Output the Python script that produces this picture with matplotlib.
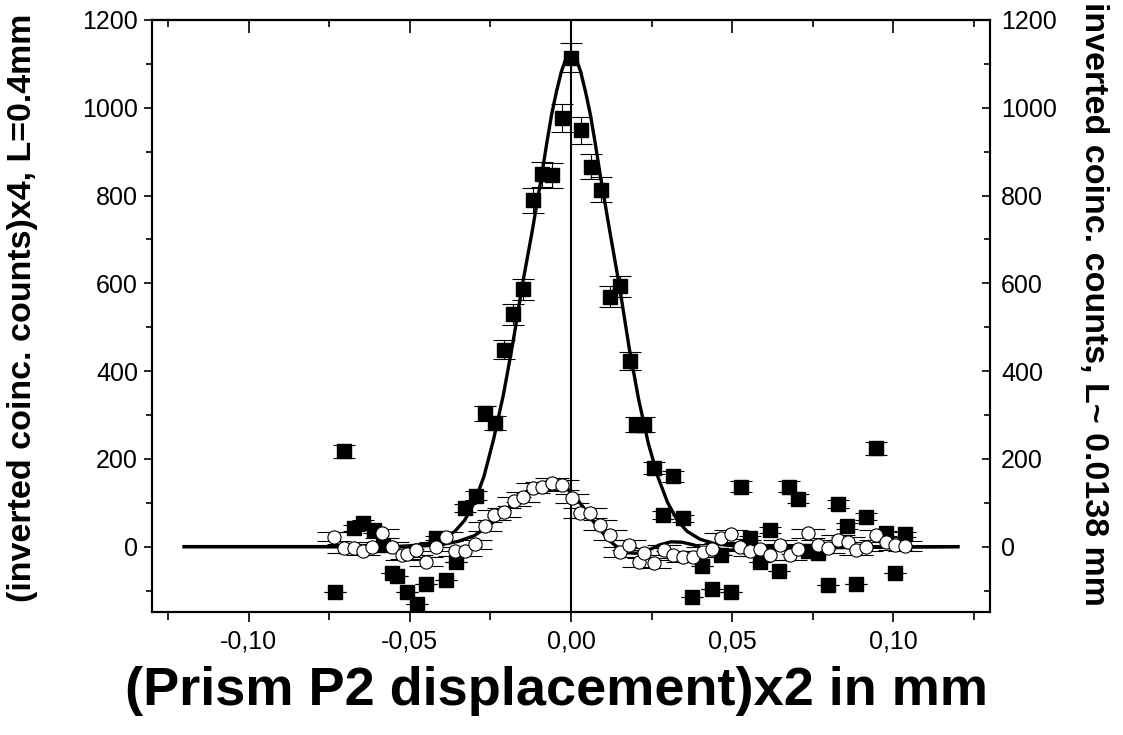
import numpy as np
import matplotlib.pyplot as plt
from matplotlib.ticker import MultipleLocator, FuncFormatter

plt.rcParams['font.family'] = ['Liberation Sans', 'DejaVu Sans']

# filled squares: (inverted coinc. counts)x4, L=0.4mm
sq_x = [-0.0733, -0.0704, -0.0673, -0.0644, -0.0611, -0.0583, -0.0554, -0.0539,
        -0.0510, -0.0479, -0.0449, -0.0420, -0.0389, -0.0358, -0.0330, -0.0296,
        -0.0268, -0.0237, -0.0208, -0.0179, -0.0150, -0.0119, -0.0090, -0.0059,
        -0.0028, 0.0001, 0.0031, 0.0062, 0.0092, 0.0122, 0.0153, 0.0182,
        0.0203, 0.0225, 0.0256, 0.0285, 0.0316, 0.0347, 0.0375, 0.0406,
        0.0437, 0.0464, 0.0496, 0.0526, 0.0555, 0.0586, 0.0617, 0.0645,
        0.0677, 0.0705, 0.0736, 0.0765, 0.0796, 0.0827, 0.0857, 0.0885,
        0.0916, 0.0947, 0.0976, 0.1006, 0.1037]
sq_y = [-104, 217, 42, 53, 38, 4, -61, -68,
        -103, -131, -84, 19, -76, -36, 88, 116,
        304, 282, 449, 529, 586, 789, 848, 846,
        977, 1114, 949, 866, 813, 569, 593, 424,
        278, 278, 180, 72, 160, 65, -115, -43,
        -97, -20, -104, 137, 19, -36, 38, -55,
        137, 109, -9, -15, -87, 97, 48, -84,
        68, 224, 30, -61, 28]
sq_err = [0, 15, 6.5, 7.3, 6.2, 2, 0, 0,
          0, 0, 0, 4.4, 0, 0, 9.4, 10.8,
          17.4, 16.8, 21.2, 23, 24.2, 28.1, 29.1, 29.1,
          31.3, 33.4, 30.8, 29.4, 28.5, 23.9, 24.4, 20.6,
          16.7, 16.7, 13.4, 8.5, 12.6, 8.1, 0, 0,
          0, 0, 0, 11.7, 4.4, 0, 6.2, 0,
          11.7, 10.4, 0, 0, 0, 9.8, 6.9, 0,
          8.2, 15, 5.5, 0, 5.3]

# open circles: inverted coinc. counts, L~0.0138 mm
ci_x = [-0.0735, -0.0704, -0.0673, -0.0645, -0.0616, -0.0585, -0.0554, -0.0525,
        -0.0508, -0.0480, -0.0449, -0.0418, -0.0389, -0.0360, -0.0330, -0.0298,
        -0.0268, -0.0239, -0.0208, -0.0177, -0.0150, -0.0119, -0.0090, -0.0059,
        -0.0028, 0.0003, 0.0029, 0.0060, 0.0091, 0.0122, 0.0153, 0.0180,
        0.0210, 0.0228, 0.0256, 0.0287, 0.0316, 0.0347, 0.0377, 0.0408,
        0.0437, 0.0464, 0.0495, 0.0525, 0.0555, 0.0586, 0.0617, 0.0648,
        0.0679, 0.0705, 0.0736, 0.0767, 0.0798, 0.0829, 0.0858, 0.0885,
        0.0916, 0.0947, 0.0976, 0.1004, 0.1035]
ci_y = [23, -4, -4, -9, 0, 30, 0, -19,
        -17, -8, -34, 0, 23, -11, -11, 5,
        46, 72, 78, 103, 113, 133, 137, 145,
        141, 110, 76, 76, 50, 27, -12, 4,
        -35, -15, -38, -8, -20, -23, -23, -12,
        -5, 20, 28, 0, -11, -5, -19, 4,
        -19, -6, 30, 4, -4, 15, 11, -8,
        0, 27, 10, 4, 2]
ci_err = 11

# fitted curves
fit1_x = [-0.12, -0.055, -0.050, -0.045, -0.040, -0.036, -0.033, -0.030, -0.027,
          -0.024, -0.021, -0.018, -0.015, -0.012, -0.009, -0.0075, -0.006, -0.0045,
          -0.003, -0.0015, 0.0, 0.0015, 0.003, 0.0045, 0.006, 0.0075, 0.009,
          0.012, 0.015, 0.018, 0.021, 0.024, 0.027, 0.030, 0.033, 0.036, 0.040,
          0.045, 0.050, 0.055, 0.12]
fit1_y = [0, 0, 2, 6, 17, 35, 60, 100, 160,
          245, 345, 465, 600, 720, 850, 920, 985, 1037,
          1082, 1114, 1125, 1114, 1082, 1037, 985, 920, 850,
          720, 595, 455, 335, 235, 158, 100, 60, 35, 17,
          6, 2, 0, 0]

fit2_x = [-0.12, -0.05, -0.045, -0.04, -0.035, -0.03, -0.025, -0.02, -0.015, -0.01,
          -0.0059, -0.002, 0.0013, 0.004, 0.0065, 0.0091, 0.0117, 0.0142, 0.0173,
          0.0205, 0.024, 0.0275, 0.031, 0.0345, 0.038, 0.042, 0.047, 0.055, 0.12]
fit2_y = [0, 0, 2, 5, 12, 25, 50, 85, 120, 142,
          148, 137, 114, 88, 61, 38, 15, 0, -14,
          -15, -8, 4, 11, 10, 4, -6, -10, -4, 0]

fig = plt.figure(figsize=(11.23, 7.35), dpi=100)
ax = fig.add_axes([0.1353, 0.1667, 0.7463, 0.8061])
ax2 = ax.twinx()

ax.axvline(0, color='black', lw=1.5, zorder=1)
ax.plot(fit1_x, fit1_y, color='black', lw=2.4, zorder=3)
ax.errorbar(sq_x, sq_y, yerr=sq_err, fmt='s', color='black', ms=10,
            ecolor='black', elinewidth=0.8, capsize=8, capthick=0.8, zorder=4)

ax2.plot(fit2_x, fit2_y, color='black', lw=2.4, zorder=3)
ax2.errorbar(ci_x, ci_y, yerr=ci_err, fmt='o', mfc='white', mec='black', mew=0.8,
             ms=9.5, ecolor='black', elinewidth=0.8, capsize=12, capthick=0.8, zorder=4)

for a in (ax, ax2):
    a.set_xlim(-0.13, 0.13)
    a.set_ylim(-150, 1200)
    a.yaxis.set_major_locator(MultipleLocator(200))
    a.yaxis.set_minor_locator(MultipleLocator(100))

ax.xaxis.set_major_locator(MultipleLocator(0.05))
ax.xaxis.set_minor_locator(MultipleLocator(0.025))
ax.xaxis.set_major_formatter(FuncFormatter(
    lambda v, p: f"{v:.2f}".replace('.', ',').replace('-0,00', '0,00')))

ax.tick_params(axis='x', which='both', direction='out', top=False, labelsize=18, width=1.2, pad=5)
ax.tick_params(axis='x', which='major', length=7)
ax.tick_params(axis='x', which='minor', length=6)
ax.tick_params(axis='y', which='both', direction='out', labelsize=18, width=1.2, pad=4)
ax.tick_params(axis='y', which='major', length=6)
ax.tick_params(axis='y', which='minor', length=4)
ax2.tick_params(axis='y', which='both', direction='in', labelsize=18, width=1.2, pad=8)
ax2.tick_params(axis='y', which='major', length=6)
ax2.tick_params(axis='y', which='minor', length=4)

top = ax.secondary_xaxis('top')
top.xaxis.set_major_locator(MultipleLocator(0.05))
top.xaxis.set_minor_locator(MultipleLocator(0.025))
top.tick_params(which='both', direction='in', labeltop=False, width=1.2)
top.tick_params(which='major', length=9)
top.tick_params(which='minor', length=5)

for a in (ax, ax2, top):
    for s in a.spines.values():
        s.set_linewidth(1.5)

ax.set_xlabel('(Prism P2 displacement)x2 in mm', fontsize=39, fontweight='bold', va='center')
ax.xaxis.set_label_coords(0.483, -0.132)
ax.set_ylabel('(inverted coinc. counts)x4, L=0.4mm', fontsize=24.5, fontweight='bold',
              va='center', ha='center')
ax.yaxis.set_label_coords(-0.154, 0.515)
ax2.set_ylabel('inverted coinc. counts, L~ 0.0138 mm', fontsize=24.5, fontweight='bold',
               rotation=270, va='center', ha='center')
ax2.yaxis.set_label_coords(1.124, 0.52)

fig.savefig('out.png', dpi=100)
